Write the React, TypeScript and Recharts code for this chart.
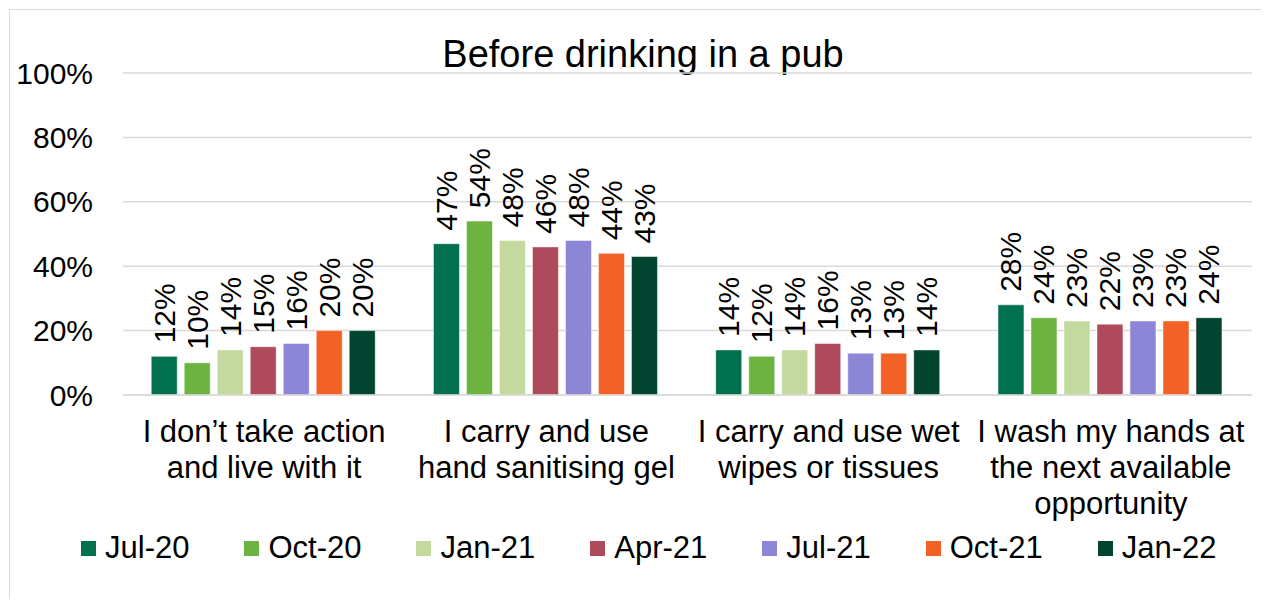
import { BarChart, Bar, XAxis, YAxis, CartesianGrid } from 'recharts';

const categories = [
  'I don’t take action\nand live with it',
  'I carry and use\nhand sanitising gel',
  'I carry and use wet\nwipes or tissues',
  'I wash my hands at\nthe next available\nopportunity',
];

const seriesNames = ['Jul-20', 'Oct-20', 'Jan-21', 'Apr-21', 'Jul-21', 'Oct-21', 'Jan-22'];
const seriesColors = ['#00704F', '#6DB33F', '#C4D99E', '#AE4A5C', '#8D86D6', '#F26125', '#024430'];

const jul20 = [12, 47, 14, 28];
const oct20 = [10, 54, 12, 24];
const jan21 = [14, 48, 14, 23];
const apr21 = [15, 46, 16, 22];
const jul21 = [16, 48, 13, 23];
const oct21 = [20, 44, 13, 23];
const jan22 = [20, 43, 14, 24];

const yTicks = [0, 20, 40, 60, 80, 100];

const seriesValues = [jul20, oct20, jan21, apr21, jul21, oct21, jan22];

const data = categories.map((name, i) => {
  const row: Record<string, string | number> = { name };
  seriesNames.forEach((s, j) => {
    row[s] = seriesValues[j][i];
  });
  return row;
});

const FONT = '"Liberation Sans", Arial, sans-serif';

const CategoryTick = (props: any) => {
  const { x, y, payload } = props;
  const lines = String(payload.value).split('\n');
  return (
    <text x={x} y={y} textAnchor="middle" fontSize={31} fontFamily={FONT} fill="#000">
      {lines.map((l, i) => (
        <tspan key={i} x={x} dy={i === 0 ? 39 : 36}>
          {l}
        </tspan>
      ))}
    </text>
  );
};

const ValueLabel = (props: any) => {
  const { x, y, width, value } = props;
  const cx = x + width / 2;
  const cy = y - 13;
  return (
    <text
      x={cx}
      y={cy}
      transform={`rotate(-90, ${cx}, ${cy})`}
      dominantBaseline="central"
      textAnchor="start"
      fontSize={30}
      fontFamily={FONT}
      fill="#000"
    >
      {`${value}%`}
    </text>
  );
};

export default function App() {
  return (
    <div
      style={{
        position: 'relative',
        left: 1,
        top: 1,
        width: 1252,
        height: 590,
        borderLeft: '1.5px solid #d9d9d9',
        borderTop: '1.5px solid #d9d9d9',
        fontFamily: FONT,
        background: '#fff',
      }}
    >
      <div
        style={{
          position: 'absolute',
          left: 0,
          width: 1266,
          top: 22,
          textAlign: 'center',
          fontSize: 38,
          lineHeight: '44px',
          color: '#000',
        }}
      >
        Before drinking in a pub
      </div>
      <BarChart
        width={1250}
        height={590}
        data={data}
        barCategoryGap="10%"
        barGap={7}
        margin={{ top: 63, right: 8, left: 33, bottom: 75 }}
      >
        <CartesianGrid vertical={false} stroke="#d9d9d9" strokeWidth={1.5} />
        <XAxis
          dataKey="name"
          tick={<CategoryTick />}
          tickLine={false}
          axisLine={{ stroke: '#d9d9d9', strokeWidth: 1.5 }}
          height={130}
          interval={0}
        />
        <YAxis
          domain={[0, 100]}
          ticks={yTicks}
          tickFormatter={(v: number) => `${v}%`}
          axisLine={false}
          tickLine={false}
          tickMargin={24}
          width={80}
          tick={{ fontSize: 30, fill: '#000', fontFamily: FONT }}
        />
        {seriesNames.map((s, j) => (
          <Bar
            key={s}
            dataKey={s}
            fill={seriesColors[j]}
            stroke="#ffffff"
            strokeOpacity={0.5}
            strokeWidth={1}
            isAnimationActive={false}
            label={<ValueLabel />}
          />
        ))}
      </BarChart>
      <div
        style={{
          position: 'absolute',
          left: 71,
          top: 520,
          display: 'flex',
          alignItems: 'center',
          gap: 55,
          fontSize: 31,
          lineHeight: '36px',
          color: '#000',
          whiteSpace: 'nowrap',
        }}
      >
        {seriesNames.map((s, j) => (
          <div key={s} style={{ display: 'flex', alignItems: 'center' }}>
            <span
              style={{
                display: 'inline-block',
                width: 15,
                height: 15,
                background: seriesColors[j],
                marginRight: 9,
              }}
            />
            <span>{s}</span>
          </div>
        ))}
      </div>
    </div>
  );
}
